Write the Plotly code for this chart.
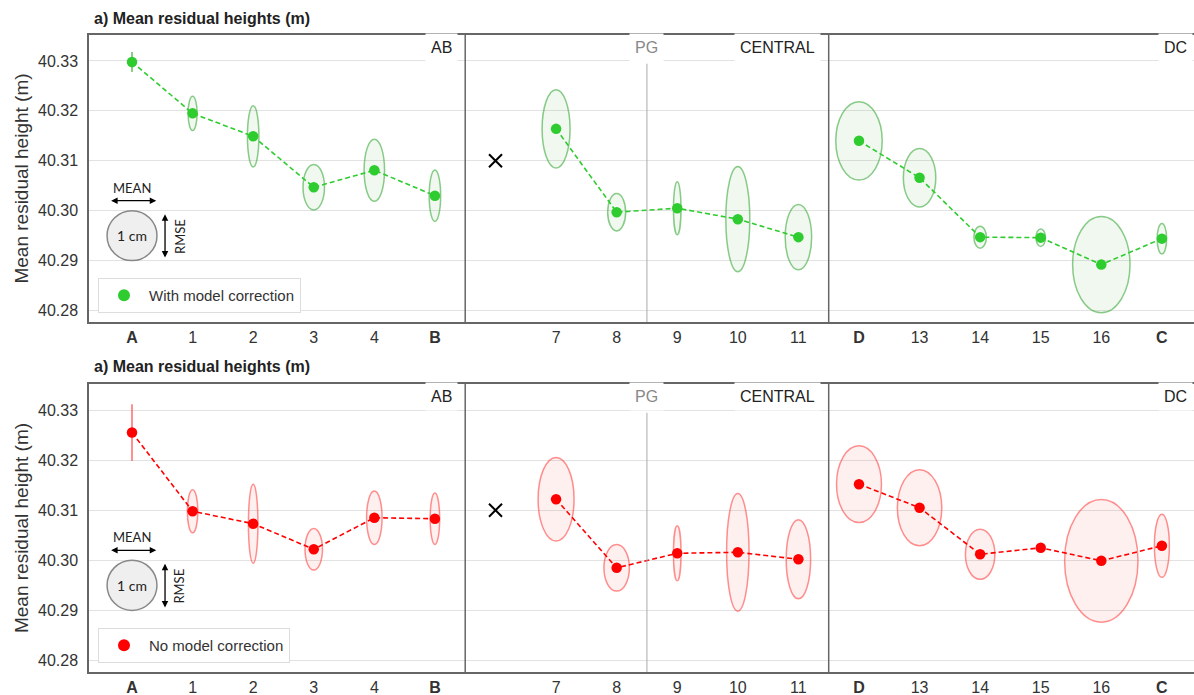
import plotly.graph_objects as go
from plotly.subplots import make_subplots

# ---------------- data ----------------
tick_labels = ["<b>A</b>", "1", "2", "3", "4", "<b>B</b>",
               "7", "8", "9", "10", "11",
               "<b>D</b>", "13", "14", "15", "16", "<b>C</b>"]
tick_pos = [0, 1, 2, 3, 4, 5, 7, 8, 9, 10, 11, 12, 13, 14, 15, 16, 17]
segments = [[0, 1, 2, 3, 4, 5], [7, 8, 9, 10, 11], [12, 13, 14, 15, 16, 17]]

# With model correction (m), ellipse width = MEAN (cm), height = RMSE (cm)
corr_mean = [40.3298, 40.3195, 40.3149, 40.3047, 40.3081, 40.3030,
             40.3164, 40.2997, 40.3005, 40.2983, 40.2947,
             40.3140, 40.3066, 40.2947, 40.2946, 40.2892, 40.2944]
corr_w = [0.05, 0.18, 0.23, 0.43, 0.41, 0.23,
          0.56, 0.36, 0.15, 0.48, 0.53,
          0.93, 0.65, 0.25, 0.19, 1.15, 0.19]
corr_h = [0.40, 0.69, 1.23, 0.91, 1.24, 1.03,
          1.57, 0.75, 1.06, 2.11, 1.31,
          1.57, 1.17, 0.44, 0.35, 1.93, 0.61]

# No model correction
raw_mean = [40.3255, 40.3098, 40.3073, 40.3022, 40.3085, 40.3083,
            40.3122, 40.2985, 40.3014, 40.3016, 40.3002,
            40.3152, 40.3105, 40.3012, 40.3025, 40.2999, 40.3029]
raw_w = [0.05, 0.21, 0.19, 0.35, 0.31, 0.19,
         0.72, 0.51, 0.15, 0.45, 0.49,
         0.90, 0.89, 0.59, 0.0, 1.47, 0.30]
raw_h = [1.13, 0.86, 1.58, 0.83, 1.07, 1.03,
         1.67, 0.93, 1.10, 2.35, 1.58,
         1.53, 1.52, 1.00, 0.0, 2.45, 1.26]

ref_x, ref_y = 6, 40.31   # "x" reference mark
pg_x = 8.5
dividers = [5.5, 11.5]
y_ticks = [40.28, 40.29, 40.30, 40.31, 40.32, 40.33]

# ---------------- layout constants ----------------
W, H = 1194, 695
ML, MR, MT, MB = 89, 0, 35, 23
xr = [-0.71, 17.53]
yr = [40.2777, 40.3352]
plot_w = W - ML - MR
top_dom = [(H - MB - 322) / (H - MT - MB), 1.0]
bot_dom = [0.0, (H - MB - 384) / (H - MT - MB)]
panel_h = 287
px_per_x = plot_w / (xr[1] - xr[0])
px_per_m = panel_h / (yr[1] - yr[0])
cm_to_x = 0.01 * px_per_m / px_per_x

FONT = "Liberation Sans, Arial, sans-serif"
GREEN = "#2ecc2e"
RED = "#ff0000"

fig = make_subplots(rows=2, cols=1, vertical_spacing=0.1)

def series_xy(vals):
    xs, ys = [], []
    for seg in segments:
        for i in seg:
            k = tick_pos.index(i)
            xs.append(i)
            ys.append(vals[k])
        xs.append(None)
        ys.append(None)
    return xs, ys

panels = [
    dict(row=1, mean=corr_mean, w=corr_w, h=corr_h, color=GREEN,
         edge="rgba(60,170,60,0.6)", fill="rgba(60,160,60,0.08)",
         name="With model correction", legend="legend"),
    dict(row=2, mean=raw_mean, w=raw_w, h=raw_h, color=RED,
         edge="rgba(255,70,70,0.6)", fill="rgba(255,60,60,0.08)",
         name="No model correction", legend="legend2"),
]

for p in panels:
    r = p["row"]
    xa = "x" if r == 1 else "x2"
    ya = "y" if r == 1 else "y2"
    # ellipses
    for xi, m, w, h in zip(tick_pos, p["mean"], p["w"], p["h"]):
        if w <= 0 and h <= 0:
            continue
        if w < 0.08:
            fig.add_shape(type="line", xref=xa, yref=ya, x0=xi, x1=xi,
                          y0=m - h / 200, y1=m + h / 200,
                          line=dict(color=p["edge"], width=2), layer="between")
            continue
        fig.add_shape(type="circle", xref=xa, yref=ya,
                      x0=xi - w / 2 * cm_to_x, x1=xi + w / 2 * cm_to_x,
                      y0=m - h / 200, y1=m + h / 200,
                      line=dict(color=p["edge"], width=1.5),
                      fillcolor=p["fill"], layer="between")
    xs, ys = series_xy(p["mean"])
    fig.add_trace(go.Scatter(x=xs, y=ys, mode="lines",
                             line=dict(color=p["color"], width=1.6, dash="5px,3px"),
                             showlegend=False, hoverinfo="skip"), row=r, col=1)
    fig.add_trace(go.Scatter(x=tick_pos, y=p["mean"], mode="markers",
                             marker=dict(color=p["color"], size=10.5),
                             name=p["name"], legend=p["legend"]), row=r, col=1)
    fig.add_trace(go.Scatter(x=[ref_x], y=[ref_y], mode="markers",
                             marker=dict(symbol="x-thin", size=13, color="black",
                                         line=dict(width=2, color="black")),
                             showlegend=False, hoverinfo="skip"), row=r, col=1)

    # dividers and PG line
    for d in dividers:
        fig.add_shape(type="line", xref=xa, yref=ya + " domain", x0=d, x1=d,
                      y0=0, y1=1, line=dict(color="#666", width=1.5))
    fig.add_shape(type="line", xref=xa, yref=ya + " domain", x0=pg_x, x1=pg_x,
                  y0=0, y1=0.9, line=dict(color="#aaa", width=1))

    # zone labels
    for txt, xx, anchor, col in [("AB", 5.38, "right", "#222"),
                                 ("PG", pg_x, "center", "#888"),
                                 ("CENTRAL", 11.38, "right", "#222"),
                                 ("DC", 17.51, "right", "#222")]:
        fig.add_annotation(xref=xa, yref=ya + " domain", x=xx, y=0.955,
                           text=txt, showarrow=False, xanchor=anchor,
                           yanchor="middle", bgcolor="white", borderpad=5,
                           font=dict(family=FONT, size=16, color=col))

    # title
    fig.add_annotation(xref="paper", yref=ya + " domain", x=(92 - ML) / plot_w,
                       y=1.0, yshift=17, text="<b>a) Mean residual heights (m)</b>",
                       showarrow=False, xanchor="left", yanchor="middle",
                       font=dict(family=FONT, size=16, color="#222"))

    # legend schematic
    fig.add_shape(type="circle", xref=xa, yref=ya,
                  x0=-0.5 * cm_to_x, x1=0.5 * cm_to_x, y0=40.290, y1=40.300,
                  line=dict(color="#888", width=1.5), fillcolor="#efefef")
    fig.add_annotation(xref=xa, yref=ya, x=0, y=40.295, text="1 cm",
                       showarrow=False, font=dict(family="Lato, Open Sans", size=14, color="#222"))
    fig.add_annotation(xref=xa, yref=ya, x=0, y=40.3046, text="MEAN",
                       showarrow=False, font=dict(family="Lato, Open Sans", size=13, color="#222"))
    fig.add_annotation(xref=xa, yref=ya, x=0.78, y=40.2948, text="RMSE", textangle=-90,
                       showarrow=False, font=dict(family="Lato, Open Sans", size=13, color="#222"))
    fig.add_annotation(xref=xa, yref=ya, axref=xa, ayref=ya,
                       x=0.40, y=40.302, ax=-0.37, ay=40.302, text="",
                       showarrow=True, arrowside="end+start", arrowhead=2,
                       arrowsize=1, arrowwidth=1.3, arrowcolor="black",
                       standoff=0, startstandoff=0)
    fig.add_annotation(xref=xa, yref=ya, axref=xa, ayref=ya,
                       x=0.545, y=40.2906, ax=0.545, ay=40.2996, text="",
                       showarrow=True, arrowside="end+start", arrowhead=2,
                       arrowsize=1, arrowwidth=1.3, arrowcolor="black",
                       standoff=0, startstandoff=0)

axis_common = dict(showline=True, mirror=True, linecolor="#666", linewidth=1.5,
                   zeroline=False, automargin=False)
fig.update_xaxes(range=xr, tickmode="array", tickvals=tick_pos, ticktext=tick_labels,
                 showgrid=False, ticks="", ticklabelstandoff=0,
                 tickfont=dict(family=FONT, size=16, color="#333"), **axis_common)
fig.update_yaxes(range=yr, tickmode="array", tickvals=y_ticks,
                 ticktext=[f"{v:.2f}" for v in y_ticks],
                 showgrid=True, gridcolor="#e2e2e2", gridwidth=1, ticks="",
                 ticklabelstandoff=6,
                 tickfont=dict(family=FONT, size=16, color="#333"),
                 title=dict(text="Mean residual height (m)", standoff=4,
                            font=dict(family=FONT, size=19, color="#333")),
                 **axis_common)
fig.update_xaxes(domain=[0, 1])
fig.update_yaxes(domain=top_dom, row=1, col=1)
fig.update_yaxes(domain=bot_dom, row=2, col=1)

leg_common = dict(bgcolor="white", bordercolor="#ddd", borderwidth=1,
                  font=dict(family=FONT, size=15, color="#333"),
                  xanchor="left", yanchor="bottom", itemsizing="constant",
                  itemwidth=40)
fig.update_layout(
    width=W, height=H, margin=dict(l=ML, r=MR, t=MT, b=MB, autoexpand=False),
    plot_bgcolor="white", paper_bgcolor="white",
    legend=dict(x=(98 - ML) / plot_w, y=(H - MB - 313) / (H - MT - MB), **leg_common),
    legend2=dict(x=(98 - ML) / plot_w, y=(H - MB - 663) / (H - MT - MB), **leg_common),
    font=dict(family=FONT),
)

fig.write_html("out.html", config={"displayModeBar": False},
               post_script="document.body.style.margin='0';document.body.style.overflow='hidden';")
